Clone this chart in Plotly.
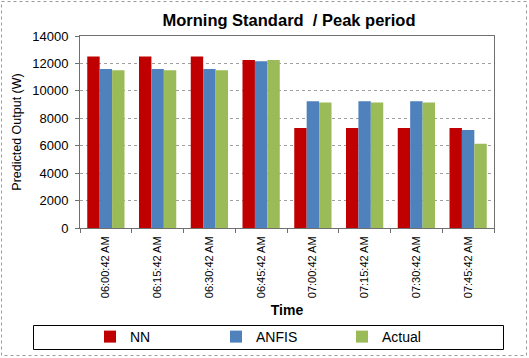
import plotly.graph_objects as go

times = ["06:00:42 AM", "06:15:42 AM", "06:30:42 AM", "06:45:42 AM",
         "07:00:42 AM", "07:15:42 AM", "07:30:42 AM", "07:45:42 AM"]
nn = [12500, 12500, 12500, 12250, 7300, 7300, 7300, 7300]
anfis = [11600, 11600, 11600, 12150, 9250, 9250, 9250, 7150]
actual = [11500, 11500, 11500, 12250, 9150, 9150, 9150, 6150]

W, H = 529, 358
L, R, T, B = 80, 35, 36, 130
pw, ph = W - L - R, H - T - B

def px(x):
    return (x - L) / pw

def py(y):
    return (H - B - y) / ph

fig = go.Figure()
fig.add_trace(go.Bar(name="NN", x=times, y=nn, marker=dict(color="#C00000", line=dict(width=0))))
fig.add_trace(go.Bar(name="ANFIS", x=times, y=anfis, marker=dict(color="#4F81BD", line=dict(width=0))))
fig.add_trace(go.Bar(name="Actual", x=times, y=actual, marker=dict(color="#9BBB59", line=dict(width=0))))

fig.update_layout(
    width=W, height=H,
    margin=dict(l=L, r=R, t=T, b=B, autoexpand=False),
    paper_bgcolor="white", plot_bgcolor="white",
    barmode="group", bargap=0.28, bargroupgap=0,
    font=dict(family="Arial, Liberation Sans", color="black", size=11),
    title=dict(text="<b>Morning Standard  / Peak period</b>", x=px(289), xref="paper",
               xanchor="center", y=1 - 20 / H, yanchor="middle", automargin=False,
               font=dict(size=16.5, family="Arial, Liberation Sans")),
    showlegend=True,
    legend=dict(orientation="h", x=px(90), xanchor="left", y=py(337), yanchor="middle",
                entrywidth=81, entrywidthmode="pixels", itemwidth=30,
                font=dict(size=14, family="Arial, Liberation Sans"),
                bgcolor="rgba(0,0,0,0)", traceorder="normal"),
    xaxis=dict(type="category", tickangle=-90, showline=True, linecolor="#707070",
               linewidth=1, mirror=True, ticks="outside", tickson="boundaries",
               ticklen=4, tickcolor="#707070", ticklabelstandoff=3, automargin=False,
               tickfont=dict(size=11, family="Arial, Liberation Sans"),
               title=dict(text="<b>Time</b>", font=dict(size=14), standoff=8)),
    yaxis=dict(range=[0, 14000], dtick=2000, tickformat="d", showline=True, linecolor="#707070",
               linewidth=1, mirror=True, ticks="outside", ticklen=4, tickcolor="#707070",
               ticklabelstandoff=4, automargin=False,
               showgrid=True, gridcolor="#A0A0A0", griddash="dot", gridwidth=1,
               zeroline=False,
               tickfont=dict(size=13, family="Arial, Liberation Sans"),
               title=dict(text="Predicted Output (W)", font=dict(size=12.5), standoff=7)),
    shapes=[
        dict(type="rect", xref="paper", yref="paper",
             x0=px(1.5), x1=px(526.5), y0=py(1.5), y1=py(355.5),
             line=dict(color="#9A9A9A", width=1, dash="dot"), layer="below"),
        dict(type="rect", xref="paper", yref="paper",
             x0=px(33.5), x1=px(503.5), y0=py(325.5), y1=py(349.5),
             line=dict(color="black", width=1), layer="below"),
    ],
)

fig.write_html("out.html", config={"displayModeBar": False},
               post_script="document.body.style.margin='0';document.body.style.overflow='hidden';")
